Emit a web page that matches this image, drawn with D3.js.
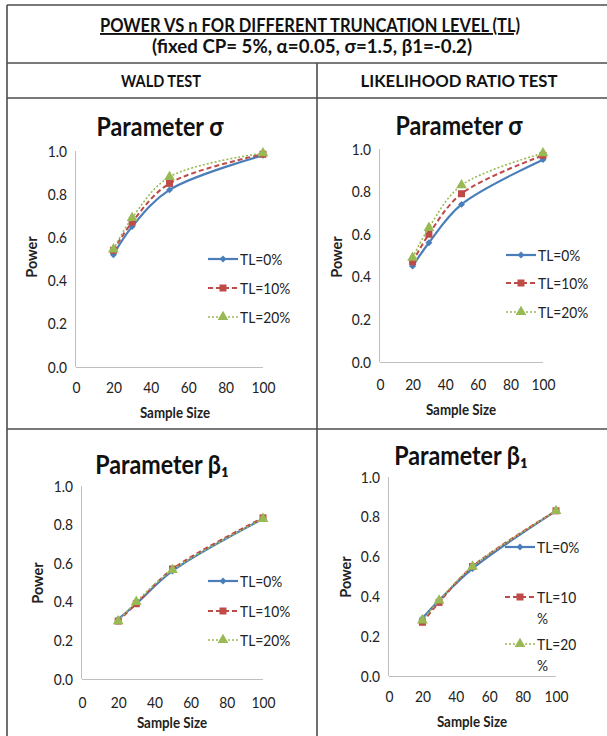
<!DOCTYPE html>
<html lang="en">
<head>
<meta charset="UTF-8">
<title>Power vs n for different truncation level</title>
<script src="https://d3js.org/d3.v7.min.js"></script>
<style>
  body { margin: 0; background: #fff; }
  svg { display: block; font-family: Lato, "Open Sans", sans-serif; }
  .frame { stroke: #4d4d4d; stroke-width: 1.6; }
  .axis path { stroke: #bfbfbf; stroke-width: 1; }
  .axis text { fill: #222; font-size: 16px; font-family: Lato, sans-serif; }
  .head { font-weight: bold; fill: #111; text-anchor: middle; }
</style>
</head>
<body>
<svg width="607" height="736"></svg>
<script>
// x values shared by every panel
const sampleSizes = [20, 30, 50, 100];
const seriesNames = ["TL=0%", "TL=10%", "TL=20%"];

// Wald test, parameter sigma
const waldSigmaTL0 = [0.52, 0.65, 0.82, 0.98];
const waldSigmaTL10 = [0.54, 0.67, 0.85, 0.985];
const waldSigmaTL20 = [0.545, 0.69, 0.88, 0.99];
// likelihood ratio test, parameter sigma
const lrtSigmaTL0 = [0.45, 0.56, 0.74, 0.95];
const lrtSigmaTL10 = [0.47, 0.60, 0.79, 0.97];
const lrtSigmaTL20 = [0.49, 0.63, 0.83, 0.98];
// Wald test, parameter beta1
const waldBetaTL0 = [0.31, 0.39, 0.56, 0.83];
const waldBetaTL10 = [0.30, 0.39, 0.57, 0.835];
const waldBetaTL20 = [0.30, 0.40, 0.565, 0.83];
// likelihood ratio test, parameter beta1
const lrtBetaTL0 = [0.29, 0.38, 0.54, 0.83];
const lrtBetaTL10 = [0.27, 0.37, 0.55, 0.83];
const lrtBetaTL20 = [0.28, 0.38, 0.55, 0.83];

const xTicks = [0, 20, 40, 60, 80, 100];
const yTicks = [0, 0.2, 0.4, 0.6, 0.8, 1.0];

const colors = ["#4a7ebb", "#be4b48", "#98b954"];
const dashes = [null, "5,3", "2,2"];
const widths = [2.2, 2, 1.6];
const symbols = [d3.symbolSquare, d3.symbolSquare, d3.symbolTriangle];
const symSizes = [24, 49, 50];
const symRotate = [45, 0, 0];

// the source picture is stretched vertically, so text gets squeezed sideways
const K = 0.86;
function squeeze(sel, k) {
  sel.each(function () {
    const len = this.getComputedTextLength();
    d3.select(this).attr("textLength", len * k).attr("lengthAdjust", "spacingAndGlyphs");
  });
}
function fitTo(sel, w) {
  sel.attr("textLength", w).attr("lengthAdjust", "spacingAndGlyphs");
}

const svg = d3.select("svg");

// table frame
const frame = svg.append("g");
[5, 63, 98, 429].forEach(y => frame.append("line").attr("class", "frame")
  .attr("x1", 7).attr("x2", 612).attr("y1", y).attr("y2", y));
frame.append("line").attr("class", "frame").attr("x1", 7).attr("x2", 7).attr("y1", 5).attr("y2", 736);
frame.append("line").attr("class", "frame").attr("x1", 317).attr("x2", 317).attr("y1", 63).attr("y2", 736);

// header texts
svg.append("text").attr("class", "head").attr("x", 310).attr("y", 32)
  .style("font-size", "19px").style("text-decoration", "underline")
  .text("POWER VS n FOR DIFFERENT TRUNCATION LEVEL (TL)").call(fitTo, 420);
svg.append("text").attr("class", "head").attr("x", 312).attr("y", 53)
  .style("font-size", "18px")
  .text("(fixed CP= 5%, α=0.05, σ=1.5, β1=-0.2)").call(fitTo, 320);
svg.append("text").attr("class", "head").attr("x", 161).attr("y", 87)
  .style("font-size", "17px").text("WALD TEST").call(fitTo, 80);
svg.append("text").attr("class", "head").attr("x", 459).attr("y", 87)
  .style("font-size", "17px").text("LIKELIHOOD RATIO TEST").call(fitTo, 197);

const panels = [
  {title: "Parameter σ", values: [waldSigmaTL0, waldSigmaTL10, waldSigmaTL20],
   left: 76, right: 263, top: 151, bottom: 367, titleX: 160, titleY: 136, xPad: 15,
   xLabelX: 175, xLabelY: 418, yLabelX: 37, yLabelY: 257, legX: 208, legY: [259, 288, 317], wrap: false},
  {title: "Parameter σ", values: [lrtSigmaTL0, lrtSigmaTL10, lrtSigmaTL20],
   left: 380, right: 543, top: 149, bottom: 362, titleX: 459, titleY: 135, xPad: 17,
   xLabelX: 461, xLabelY: 415, yLabelX: 342, yLabelY: 257, legX: 506, legY: [255, 283, 312], wrap: false},
  {title: "Parameter β₁", values: [waldBetaTL0, waldBetaTL10, waldBetaTL20],
   left: 82, right: 263, top: 486, bottom: 679, titleX: 162, titleY: 474, xPad: 18,
   xLabelX: 172, xLabelY: 728, yLabelX: 43, yLabelY: 583, legX: 208, legY: [581, 611, 640], wrap: false},
  {title: "Parameter β₁", values: [lrtBetaTL0, lrtBetaTL10, lrtBetaTL20],
   left: 389, right: 556, top: 477, bottom: 676, titleX: 461, titleY: 465, xPad: 15,
   xLabelX: 472, xLabelY: 727, yLabelX: 351, yLabelY: 577, legX: 505, legY: [547, 597, 644], wrap: true}
];

panels.forEach(p => {
  const g = svg.append("g");
  const x = d3.scaleLinear().domain([0, 100]).range([p.left, p.right]);
  const y = d3.scaleLinear().domain([0, 1]).range([p.bottom, p.top]);

  // title
  g.append("text").attr("x", p.titleX).attr("y", p.titleY).attr("text-anchor", "middle")
    .style("font-size", "27px").style("font-weight", "bold")
    .attr("fill", "#111").text(p.title).call(squeeze, K);

  // axes
  g.append("g").attr("class", "axis").attr("transform", `translate(0,${p.bottom})`)
    .call(d3.axisBottom(x).tickValues(xTicks).tickSize(0).tickPadding(p.xPad).tickFormat(d3.format("d")))
    .call(a => a.select(".domain").attr("d", `M${p.left},0.5H${p.right}`))
    .selectAll("text").call(squeeze, K);
  g.append("g").attr("class", "axis").attr("transform", `translate(${p.left},0)`)
    .call(d3.axisLeft(y).tickValues(yTicks).tickSize(0).tickPadding(9).tickFormat(d3.format(".1f")))
    .call(a => a.select(".domain").attr("d", `M-0.5,${p.top}V${p.bottom}`))
    .selectAll("text").call(squeeze, K);

  // axis titles
  g.append("text").attr("x", p.xLabelX).attr("y", p.xLabelY).attr("text-anchor", "middle")
    .style("font-size", "15.5px").style("font-weight", "bold").attr("fill", "#222")
    .text("Sample Size").call(squeeze, K);
  g.append("text").attr("transform", `translate(${p.yLabelX},${p.yLabelY}) rotate(-90)`)
    .attr("text-anchor", "middle").style("font-size", "14.5px").style("font-weight", "bold")
    .attr("fill", "#222").text("Power");

  // series
  const line = d3.line().x((d, i) => x(sampleSizes[i])).y(d => y(d))
    .curve(d3.curveCatmullRom.alpha(0.5));
  p.values.forEach((vals, s) => {
    g.append("path").attr("d", line(vals)).attr("fill", "none")
      .attr("stroke", colors[s]).attr("stroke-width", widths[s])
      .attr("stroke-dasharray", dashes[s]);
    g.selectAll(null).data(vals).join("path")
      .attr("d", d3.symbol(symbols[s], symSizes[s]))
      .attr("transform", (d, i) => `translate(${x(sampleSizes[i])},${y(d)}) rotate(${symRotate[s]})`)
      .attr("fill", colors[s]);
  });

  // legend
  seriesNames.forEach((name, s) => {
    const ly = p.legY[s];
    const lg = g.append("g");
    lg.append("line").attr("x1", p.legX).attr("x2", p.legX + 30).attr("y1", ly).attr("y2", ly)
      .attr("stroke", colors[s]).attr("stroke-width", widths[s]).attr("stroke-dasharray", dashes[s]);
    lg.append("path").attr("d", d3.symbol(symbols[s], symSizes[s]))
      .attr("transform", `translate(${p.legX + 15},${ly}) rotate(${symRotate[s]})`)
      .attr("fill", colors[s]);
    const label = p.wrap && name.length > 5 ? [name.slice(0, -1), "%"] : [name];
    label.forEach((part, j) => {
      lg.append("text").attr("x", p.legX + 32).attr("y", ly + j * 21).attr("dy", "0.36em")
        .style("font-size", "16px").attr("fill", "#222").text(part).call(squeeze, K);
    });
  });
});
</script>
</body>
</html>
